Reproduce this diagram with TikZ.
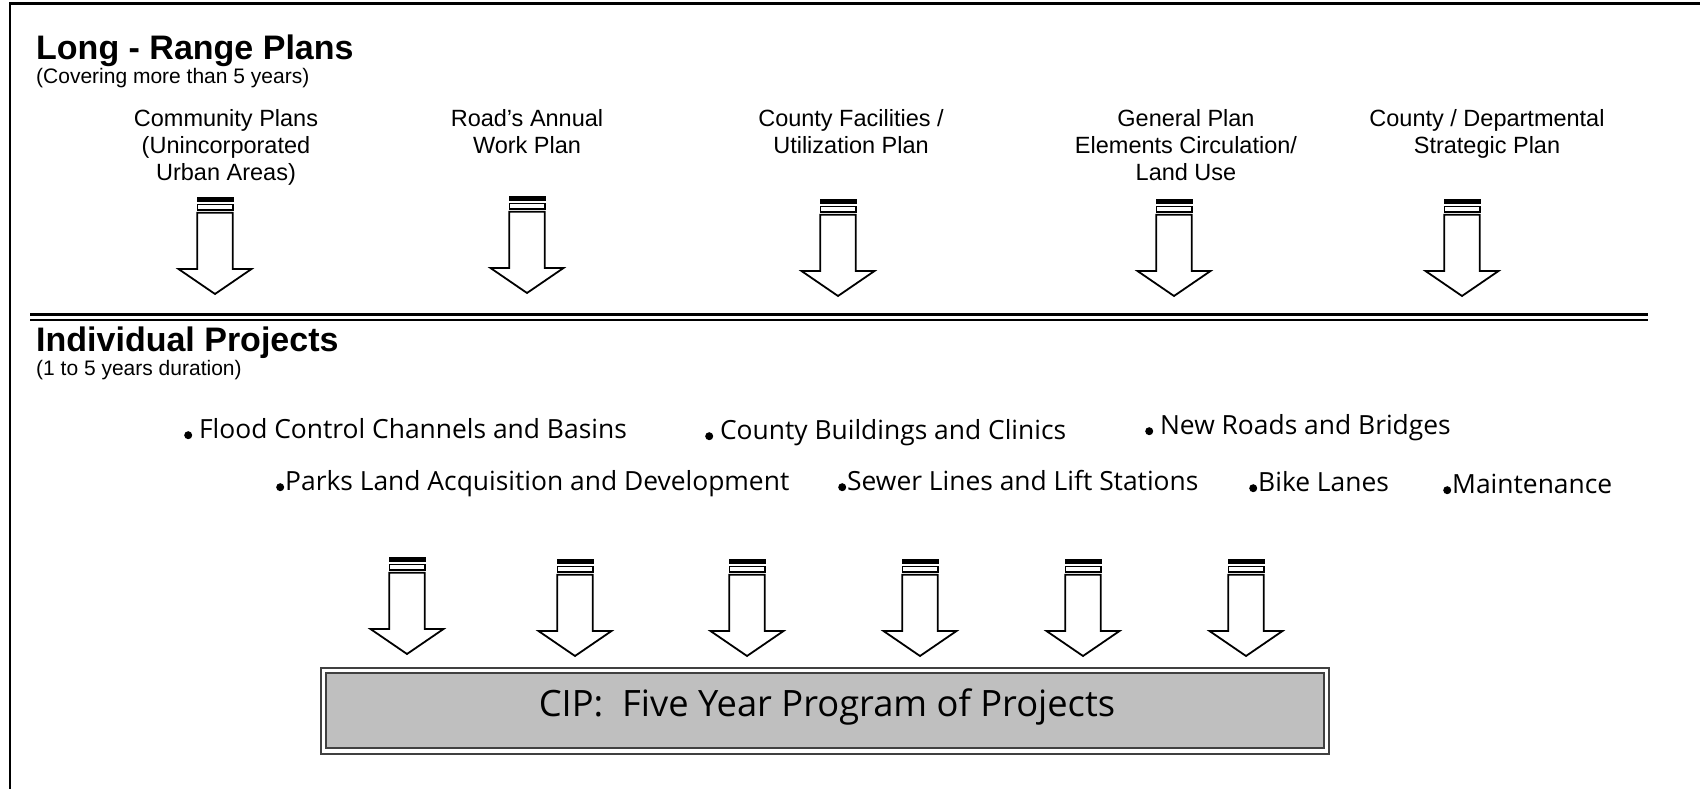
\documentclass[tikz,border=0pt]{standalone}
\usepackage{fontspec}
\setmainfont{Liberation Sans}
\newfontfamily\itemfont{Open Sans}

% small round dot set before each project line
\newcommand{\projdot}{\tikz[baseline=0pt]\fill (4pt,2.8pt) circle (4pt);}

\tikzset{
  heading/.style={anchor=base west, inner sep=0pt, font=\fontsize{34}{40}\selectfont\bfseries},
  subheading/.style={anchor=base west, inner sep=0pt, font=\fontsize{21}{25}\selectfont},
  planlabel/.style={anchor=north, inner sep=0pt, align=center, font=\fontsize{23.5}{27}\selectfont},
  projitem/.style={anchor=base west, inner sep=0pt, font=\itemfont\fontsize{26.4}{31}\selectfont},
  cipbox/.style={draw=black!75, line width=1.5pt, minimum width=1008pt, minimum height=86pt, inner sep=0pt},
}

\begin{document}
\begin{tikzpicture}[x=1pt, y=-1pt]
    \useasboundingbox (0,0) rectangle (1700,789);

    % frame, top and left only
    \draw[line width=2.2pt] (1700,3.5) -- (10,3.5) -- (10,789);

    % long-range part
    \node[heading] (longrange) at (36,60) {Long - Range Plans};
    \node[subheading] (longrangesub) at (36,84) {(Covering more than 5 years)};

    \node[planlabel] (plan1) at (226,109) {Community Plans\\(Unincorporated\\Urban Areas)};
    \node[planlabel] (plan2) at (527,109) {Road’s Annual\\Work Plan};
    \node[planlabel] (plan3) at (851,109) {County Facilities /\\Utilization Plan};
    \node[planlabel] (plan4) at (1186,109) {General Plan\\Elements Circulation/\\Land Use};
    \node[planlabel] (plan5) at (1487,109) {County / Departmental\\Strategic Plan};

    % block arrows (centre x / top y)
    \foreach \ax/\ay in {215/197, 527/196, 838/199, 1174/199, 1462/199,
                         407/557, 575/559, 747/559, 920/559, 1083/559, 1246/559} {
        \begin{scope}[shift={(\ax,\ay)}]
            \fill (-18.5,0) rectangle (18.5,4.5);
            \draw[line width=1.4pt] (-17.8,7.5) rectangle (17.8,12.8);
            \draw[line width=1.8pt, fill=white, line join=miter]
                (-17.8,15.8) -- (-17.8,72) -- (-36.5,72) -- (0,97)
                -- (36.5,72) -- (17.8,72) -- (17.8,15.8) -- cycle;
        \end{scope}
    }

    % double rule between the two parts
    \draw[line width=3pt] (30,314.8) -- (1648,314.8);
    \draw[line width=2pt] (30,320.2) -- (1648,320.2);

    % individual projects part
    \node[heading] (indiv) at (36,351) {Individual Projects};
    \node[subheading] (indivsub) at (36,375) {(1 to 5 years duration)};

    \node[projitem] (flood) at (184,438) {\projdot\ Flood Control Channels and Basins};
    \node[projitem] (bldg) at (705,439) {\projdot\ County Buildings and Clinics};
    \node[projitem] (roads) at (1145,434) {\projdot\ New Roads and Bridges};
    \node[projitem] (parks) at (276,490) {\projdot\hspace{1pt}Parks Land Acquisition and Development};
    \node[projitem] (sewer) at (838,490) {\projdot\hspace{1pt}Sewer Lines and Lift Stations};
    \node[projitem] (bike) at (1249,491) {\projdot\hspace{1pt}Bike Lanes};
    \node[projitem] (maint) at (1443,493) {\projdot\hspace{1pt}Maintenance};

    % five year program
    \node[cipbox] (cipouter) at (825,711) {};
    \node[draw=black!75, line width=2.5pt, fill=black!25, minimum width=998pt,
          minimum height=75pt, inner sep=0pt] (cip) at (825,710.5) {};
    \node[anchor=base, inner sep=0pt, font=\itemfont\fontsize{36.3}{43}\selectfont]
        (ciptext) at (827,716) {CIP:\ \ Five Year Program of Projects};
\end{tikzpicture}
\end{document}
